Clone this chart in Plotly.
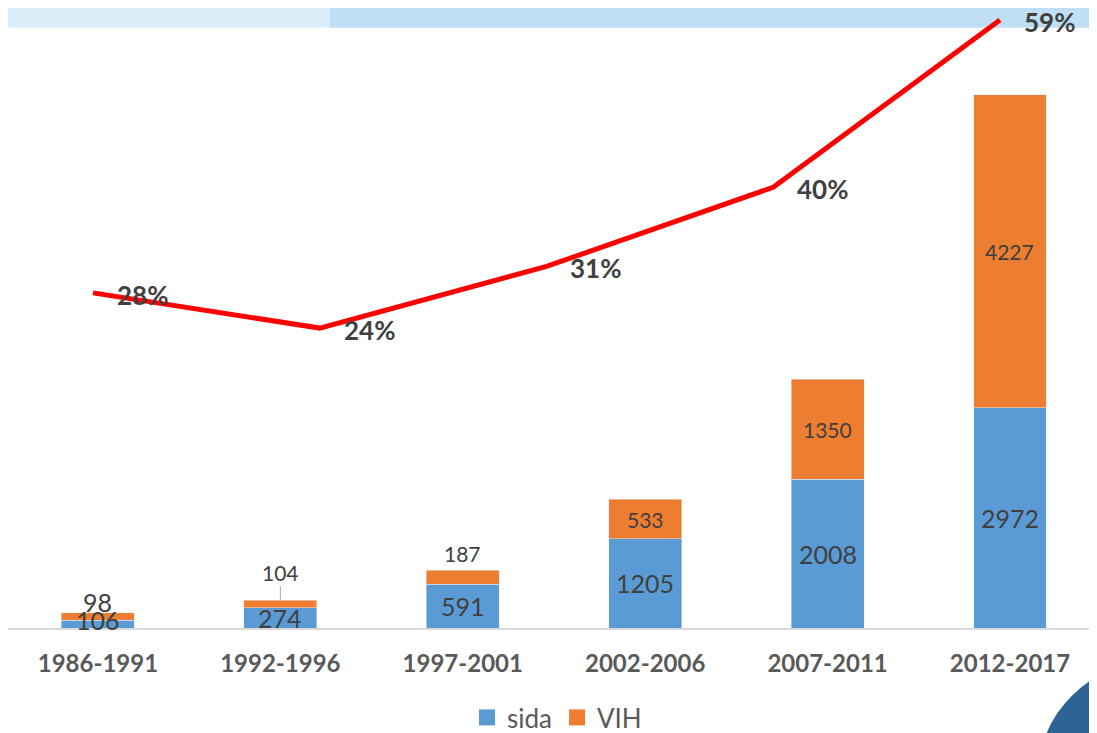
import plotly.graph_objects as go

# ---- data ----
periods = ["1986-1991", "1992-1996", "1997-2001", "2002-2006", "2007-2011", "2012-2017"]
sida = [106, 274, 591, 1205, 2008, 2972]
vih = [98, 104, 187, 533, 1350, 4227]
pct_values = [0.28, 0.24, 0.31, 0.40, 0.59]
pct_index = [0, 1, 2, 3, 4]

BLUE = "#5B9BD5"
ORANGE = "#ED7D31"
TXT = "#404040"
FONT = "Lato"

fig = go.Figure()
fig.add_trace(go.Bar(x=periods, y=sida, name="sida", marker_color=BLUE, width=0.4,
                     showlegend=False, hoverinfo="x+y"))
fig.add_trace(go.Bar(x=periods, y=vih, name="VIH", marker_color=ORANGE, width=0.4,
                     showlegend=False, hoverinfo="x+y"))
for nm, col in [("sida", BLUE), ("VIH", ORANGE)]:
    fig.add_trace(go.Scatter(x=[None], y=[None], mode="markers", name=nm,
                             marker=dict(symbol="square", size=20, color=col)))
fig.add_trace(go.Scatter(x=pct_index, y=pct_values, mode="lines", xaxis="x2", yaxis="y2",
                         line=dict(color="#FF0000", width=5), showlegend=False,
                         cliponaxis=False))

ann = []
for p, s in zip(periods, sida):
    ann.append(dict(x=p, y=s / 2, text=str(s), showarrow=False,
                    yshift=4 if s < 150 else 0,
                    font=dict(family=FONT, size=25, color=TXT)))
for i, (p, s, v) in enumerate(zip(periods, sida, vih)):
    top = s + v
    if i == 0:
        ann.append(dict(x=p, y=top, text=str(v), showarrow=False, yshift=11,
                        font=dict(family=FONT, size=25, color=TXT)))
    elif i == 1:
        ann.append(dict(x=p, y=top, text=str(v), showarrow=True, arrowhead=0,
                        arrowcolor="#A6A6A6", arrowwidth=1, ax=0, ay=-28,
                        font=dict(family=FONT, size=21, color=TXT)))
    elif i == 2:
        ann.append(dict(x=p, y=top, text=str(v), showarrow=False, yshift=17,
                        font=dict(family=FONT, size=21, color=TXT)))
    else:
        ann.append(dict(x=p, y=s + v / 2, text=str(v), showarrow=False,
                        font=dict(family=FONT, size=21, color=TXT)))
for xi, v in zip(pct_index, pct_values):
    ann.append(dict(x=xi, y=v, xref="x2", yref="y2", text=f"<b>{round(v*100)}%</b>",
                    showarrow=False, xanchor="left", xshift=22, yshift=-2,
                    font=dict(family=FONT, size=26, color=TXT)))

W, H = 1089, 733
TOP, BOT = 3, 106
PH = H - TOP - BOT
def px(x):
    return (x - 8) / W
def py(y):
    return (627 - y) / PH

shapes = [
    dict(type="rect", xref="paper", yref="paper", x0=px(0), x1=px(330), y0=py(20), y1=py(-10),
         fillcolor="#DCEEFA", line_width=0, layer="below"),
    dict(type="rect", xref="paper", yref="paper", x0=px(330), x1=px(1100), y0=py(20), y1=py(-10),
         fillcolor="#BFE0F4", line_width=0, layer="below"),
    dict(type="circle", xref="paper", yref="paper", x0=px(1037), x1=px(1277),
         y0=py(900), y1=py(660), fillcolor="#2E6395", line_width=0, layer="below"),
]

fig.update_layout(
    width=W, height=H,
    margin=dict(l=0, r=0, t=TOP, b=BOT),
    paper_bgcolor="white", plot_bgcolor="rgba(0,0,0,0)",
    barmode="stack",
    font=dict(family=FONT, color=TXT),
    xaxis=dict(type="category", range=[-0.493, 5.477], showgrid=False, zeroline=False,
               showline=True, linecolor="#D9D9D9", linewidth=2, ticks="",
               ticklabelstandoff=13,
               tickfont=dict(family=FONT, size=24, color="#595959", weight="bold")),
    yaxis=dict(range=[0, 8333], visible=False, showgrid=False, zeroline=False),
    xaxis2=dict(overlaying="x", range=[-0.375, 4.428], visible=False, showgrid=False),
    yaxis2=dict(overlaying="y", range=[-0.1008, 0.6003], visible=False, showgrid=False),
    legend=dict(orientation="h", x=px(557), xanchor="center", y=-91 / PH, yanchor="middle",
                font=dict(family=FONT, size=26, color="#595959"), traceorder="normal",
                itemwidth=30),
    annotations=ann,
    shapes=shapes,
)

fig.write_html("out.html")
